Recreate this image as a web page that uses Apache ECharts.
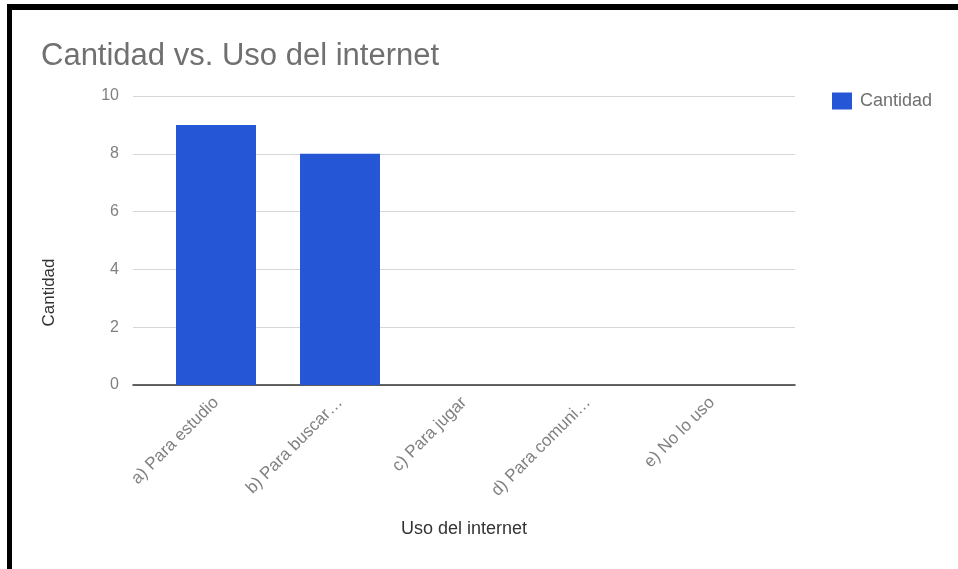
<!DOCTYPE html>
<html>
<head>
<meta charset="utf-8">
<script src="https://cdn.jsdelivr.net/npm/echarts@6/dist/echarts.min.js"></script>
<style>
html,body{margin:0;padding:0;background:#fff;}
#chart{position:absolute;left:0;top:0;width:958px;height:569px;}
#frame{position:absolute;left:7px;top:4px;width:951px;height:565px;border-top:6px solid #000;border-left:5px solid #000;box-sizing:border-box;pointer-events:none;}
</style>
</head>
<body>
<div id="chart"></div>
<div id="frame"></div>
<script>
const categories = ['a) Para estudio', 'b) Para buscar…', 'c) Para jugar', 'd) Para comuni…', 'e) No lo uso'];
const cantidad = [9, 8, 0, 0, 0];
const yTicks = { min: 0, max: 10, interval: 2 };
const seriesName = 'Cantidad';

const font = '"Liberation Sans", Arial, Helvetica, sans-serif';
const chart = echarts.init(document.getElementById('chart'), null, { renderer: 'canvas' });
chart.setOption({
  backgroundColor: '#ffffff',
  animation: false,
  textStyle: { fontFamily: font },
  title: {
    text: 'Cantidad vs. Uso del internet',
    left: 36, top: 36,
    textStyle: { fontFamily: font, fontSize: 31, fontWeight: 'normal', color: '#707070' }
  },
  legend: {
    data: [seriesName],
    left: 827, top: 87,
    itemWidth: 20, itemHeight: 17, itemGap: 14,
    icon: 'rect',
    textStyle: { fontFamily: font, fontSize: 18, color: '#707070', padding: [0, 0, 0, 3] }
  },
  grid: [
    { left: 133, right: 163, top: 96, bottom: 184 },
    { left: 154, right: 184, top: 96, bottom: 184 }
  ],
  xAxis: [
    {
      type: 'category', gridIndex: 0, data: categories,
      axisLine: { show: true, lineStyle: { color: '#333', width: 1.5 } },
      axisTick: { show: false }, axisLabel: { show: false }, splitLine: { show: false }
    },
    {
      type: 'category', gridIndex: 1, data: categories,
      axisLine: { show: false }, axisTick: { show: false },
      axisLabel: { rotate: 45, margin: 15, fontSize: 17, color: '#808080', fontFamily: font },
      name: 'Uso del internet', nameLocation: 'middle', nameGap: 135,
      nameTextStyle: { fontSize: 18, color: '#333', fontFamily: font }
    }
  ],
  yAxis: [
    {
      type: 'value', gridIndex: 0, min: yTicks.min, max: yTicks.max, interval: yTicks.interval,
      axisLine: { show: false }, axisTick: { show: false },
      axisLabel: { margin: 14, fontSize: 16, color: '#808080', fontFamily: font },
      splitLine: { lineStyle: { color: '#d6d6d6', width: 1 } },
      name: 'Cantidad', nameLocation: 'middle', nameGap: 75,
      nameTextStyle: { fontSize: 17, color: '#333', fontFamily: font, padding: [0, 104, 0, 0] }
    },
    {
      type: 'value', gridIndex: 1, min: yTicks.min, max: yTicks.max, interval: yTicks.interval,
      show: false
    }
  ],
  series: [
    {
      name: seriesName, type: 'bar', xAxisIndex: 1, yAxisIndex: 1,
      data: cantidad, barWidth: 80,
      itemStyle: { color: '#2456d6' }
    }
  ]
});
</script>
</body>
</html>
